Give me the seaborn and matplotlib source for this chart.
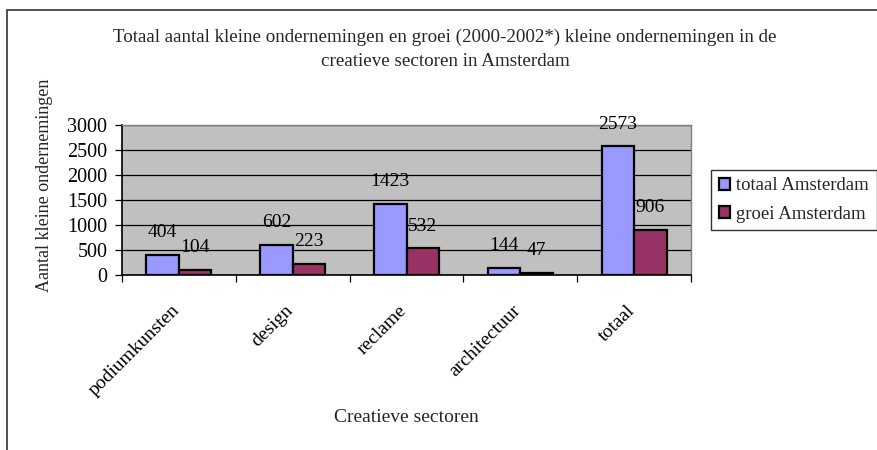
import matplotlib
matplotlib.use("Agg")
import matplotlib.pyplot as plt
from matplotlib.patches import Rectangle, Patch
from matplotlib.transforms import blended_transform_factory, offset_copy
import seaborn as sns
import pandas as pd

# Data
sectors = ["podiumkunsten", "design", "reclame", "architectuur", "totaal"]
totaal_amsterdam = [404, 602, 1423, 144, 2573]
groei_amsterdam = [104, 223, 532, 47, 906]
series_names = ["totaal Amsterdam", "groei Amsterdam"]
y_ticks = [0, 500, 1000, 1500, 2000, 2500, 3000]

title_lines = [
    "Totaal aantal kleine ondernemingen en groei (2000-2002*) kleine ondernemingen in de",
    "creatieve sectoren in Amsterdam",
]
x_title = "Creatieve sectoren"
y_title = "Aantal kleine ondernemingen"

df = pd.DataFrame({
    "sector": sectors * 2,
    "value": totaal_amsterdam + groei_amsterdam,
    "serie": [series_names[0]] * len(sectors) + [series_names[1]] * len(sectors),
})

sns.set_theme(style="white")
plt.rcParams["font.family"] = ["Liberation Serif", "DejaVu Serif"]
FS = 14

W, H = 877, 450
fig = plt.figure(figsize=(W / 100, H / 100), dpi=100)
fig.patch.set_facecolor("white")

# chart-area frame
fig.patches.append(Rectangle((7 / W, -0.05), 1.2, 1 - 10 / H + 0.05,
                             transform=fig.transFigure, fill=False,
                             edgecolor="#333333", linewidth=1.2))

ax = fig.add_axes([122 / W, 1 - 275 / H, (691 - 122) / W, (275 - 125) / H])
palette = {series_names[0]: "#9999FF", series_names[1]: "#993366"}
sns.barplot(data=df, x="sector", y="value", hue="serie", order=sectors,
            hue_order=series_names, palette=palette, width=2 / 3.5, gap=0,
            edgecolor="black", linewidth=1.6, saturation=1, ax=ax, legend=False,
            zorder=3)

ax.set_facecolor("#C0C0C0")
ax.set_xlim(-0.5, len(sectors) - 0.5)
ax.set_ylim(0, 3000)
ax.set_yticks(y_ticks)
ax.set_yticklabels([str(v) for v in y_ticks], fontsize=14.5, color="black")
ax.yaxis.grid(True, color="black", linewidth=0.9, zorder=1)
ax.set_axisbelow(True)
ax.tick_params(axis="y", direction="out", length=5, width=0.9, color="black", pad=5.5, left=True)

# category boundaries carry the x ticks; labels sit under category centers
ax.set_xticks([i - 0.5 for i in range(len(sectors) + 1)])
ax.set_xticklabels([])
ax.tick_params(axis="x", direction="out", length=5, width=0.9, color="black", bottom=True)
ax.set_xlabel("")
ax.set_ylabel("")

for s in ["left", "bottom"]:
    ax.spines[s].set_color("black")
    ax.spines[s].set_linewidth(1.2)
for s in ["top", "right"]:
    ax.spines[s].set_color("#808080")
    ax.spines[s].set_linewidth(1.0)

lab_tr = offset_copy(blended_transform_factory(ax.transData, ax.transAxes),
                     fig=fig, x=-2, y=-33, units="dots")
for i, name in enumerate(sectors):
    ax.text(i, 0, name, transform=lab_tr, rotation=45, rotation_mode="anchor",
            ha="right", va="center", fontsize=FS, color="black")

# value labels above bars
for cont in ax.containers:
    for bar in cont:
        h = bar.get_height()
        ax.annotate(f"{int(round(h))}", (bar.get_x() + bar.get_width() / 2, h),
                    xytext=(0, 22 * 72 / 100), textcoords="offset points",
                    ha="center", va="center", fontsize=FS, color="black",
                    annotation_clip=False, zorder=5)

# titles
fig.text(445 / W, 1 - 37 / H, title_lines[0], ha="center", va="center", fontsize=13.7)
fig.text(445 / W, 1 - 61 / H, title_lines[1], ha="center", va="center", fontsize=13.7)
fig.text(406.5 / W, 1 - 418 / H, x_title, ha="center", va="center", fontsize=FS)
fig.text(45 / W, 1 - 185 / H, y_title, ha="center", va="center", rotation=90, fontsize=13)

handles = [Patch(facecolor=palette[n], edgecolor="black", linewidth=1.6) for n in series_names]
leg = fig.legend(handles, series_names, loc="upper left",
                 bbox_to_anchor=(711 / W, 1 - 170 / H), bbox_transform=fig.transFigure,
                 fontsize=13.5, frameon=True, fancybox=False, handlelength=0.6,
                 handleheight=0.6, handletextpad=0.35, borderpad=0.4,
                 labelspacing=0.6, borderaxespad=0)
leg.get_frame().set_edgecolor("black")
leg.get_frame().set_linewidth(1.0)

fig.savefig("out.png", dpi=100)
